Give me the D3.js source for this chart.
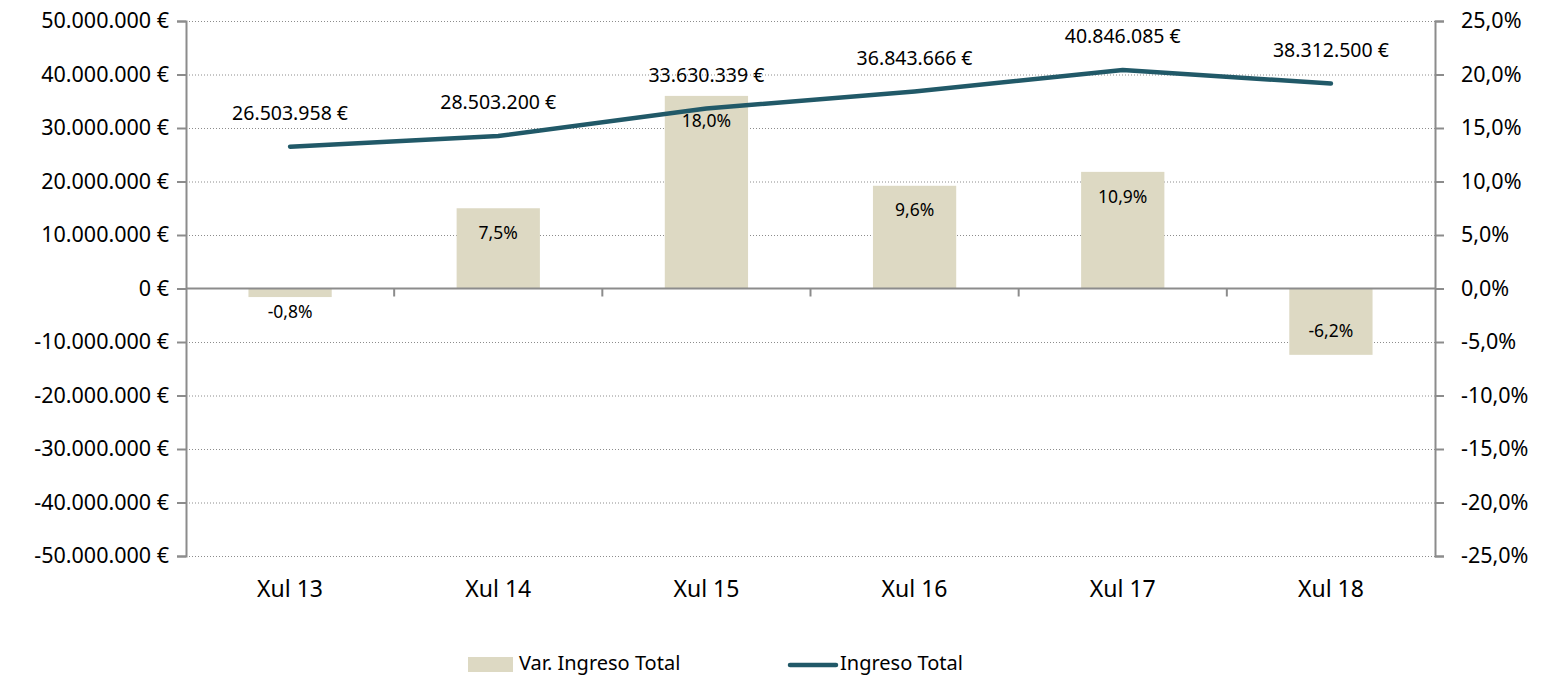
<!DOCTYPE html>
<html>
<head>
<meta charset="utf-8">
<script src="https://cdn.jsdelivr.net/npm/d3@7"></script>
<style>
  body { margin: 0; background: #fff; }
  svg text { font-family: "Noto Sans", sans-serif; fill: #000; }
</style>
</head>
<body>
<div id="vis"></div>
<script>
const months = ["Xul 13", "Xul 14", "Xul 15", "Xul 16", "Xul 17", "Xul 18"];
const ingresoTotal = [26503958, 28503200, 33630339, 36843666, 40846085, 38312500];
const varIngreso = [-0.8, 7.5, 18.0, 9.6, 10.9, -6.2];
const leftTicks = [-50000000, -40000000, -30000000, -20000000, -10000000, 0, 10000000, 20000000, 30000000, 40000000, 50000000];
const rightTicks = [-25, -20, -15, -10, -5, 0, 5, 10, 15, 20, 25];

const FRAME_WIDTH = 1545;
const FRAME_HEIGHT = 677;
const MARGINS = {left: 186, right: 110, top: 21, bottom: 121};

const BAR_COLOR = "#DDD9C3";
const LINE_COLOR = "#215968";
const AXIS_COLOR = "#8C8C8C";

const svg = d3.select("#vis")
  .append("svg")
  .attr("width", FRAME_WIDTH)
  .attr("height", FRAME_HEIGHT);

const X = d3.scaleBand()
  .domain(months)
  .range([MARGINS.left, FRAME_WIDTH - MARGINS.right]);

const YL = d3.scaleLinear()
  .domain([-50000000, 50000000])
  .range([FRAME_HEIGHT - MARGINS.bottom, MARGINS.top]);

const YR = d3.scaleLinear()
  .domain([-25, 25])
  .range([FRAME_HEIGHT - MARGINS.bottom, MARGINS.top]);

// spanish style numbers, plain hyphen for negatives
const euro = (v) => d3.format(",")(v).replace(/,/g, ".").replace("\u2212", "-") + " €";
const pct = (v) => v.toFixed(1).replace(".", ",") + "%";

// gridlines (dotted)
svg.append("g")
  .selectAll("line")
  .data(leftTicks.filter(d => d !== 0))
  .enter().append("line")
  .attr("x1", MARGINS.left)
  .attr("x2", FRAME_WIDTH - MARGINS.right)
  .attr("y1", d => YL(d) + 0.5)
  .attr("y2", d => YL(d) + 0.5)
  .attr("stroke", "#8C8C8C")
  .attr("stroke-width", 1)
  .attr("stroke-dasharray", "1,2");

// bars
const barW = X.bandwidth() * 0.4;
svg.append("g")
  .selectAll("rect")
  .data(varIngreso)
  .enter().append("rect")
  .attr("x", (d, i) => X(months[i]) + (X.bandwidth() - barW) / 2)
  .attr("y", d => YR(Math.max(d, 0)))
  .attr("width", barW)
  .attr("height", d => Math.abs(YR(d) - YR(0)))
  .attr("fill", BAR_COLOR);

// left axis
const leftAxis = svg.append("g")
  .attr("transform", "translate(" + MARGINS.left + ",0)")
  .call(d3.axisLeft(YL).tickValues(leftTicks).tickFormat(euro).tickSize(9).tickPadding(8));

// right axis
const rightAxis = svg.append("g")
  .attr("transform", "translate(" + (FRAME_WIDTH - MARGINS.right) + ",0)")
  .call(d3.axisRight(YR).tickValues(rightTicks).tickFormat(pct).tickSize(9).tickPadding(17));

[leftAxis, rightAxis].forEach(ax => {
  ax.select(".domain").attr("stroke", AXIS_COLOR).attr("stroke-width", 2);
  ax.selectAll(".tick line").attr("stroke", AXIS_COLOR).attr("stroke-width", 2);
  ax.selectAll(".tick text").style("font-size", "21.5px").attr("fill", "#000");
});

// category axis on zero line
const xAxis = svg.append("g")
  .attr("transform", "translate(0," + YL(0) + ")");
xAxis.append("line")
  .attr("x1", MARGINS.left)
  .attr("x2", FRAME_WIDTH - MARGINS.right)
  .attr("stroke", AXIS_COLOR)
  .attr("stroke-width", 2);
xAxis.selectAll(".ctick")
  .data(months.slice(1))
  .enter().append("line")
  .attr("x1", d => X(d))
  .attr("x2", d => X(d))
  .attr("y1", 0)
  .attr("y2", 8)
  .attr("stroke", AXIS_COLOR)
  .attr("stroke-width", 2);

// category labels at bottom
svg.append("g")
  .selectAll("text")
  .data(months)
  .enter().append("text")
  .attr("x", d => X(d) + X.bandwidth() / 2)
  .attr("y", FRAME_HEIGHT - MARGINS.bottom + 35)
  .attr("text-anchor", "middle")
  .attr("dominant-baseline", "middle")
  .style("font-size", "23px")
  .text(d => d);

// line
const line = d3.line()
  .x((d, i) => X(months[i]) + X.bandwidth() / 2)
  .y(d => YL(d));

svg.append("path")
  .datum(ingresoTotal)
  .attr("d", line)
  .attr("fill", "none")
  .attr("stroke", LINE_COLOR)
  .attr("stroke-width", 4.5)
  .attr("stroke-linecap", "round")
  .attr("stroke-linejoin", "round");

// bar labels
svg.append("g")
  .selectAll("text")
  .data(varIngreso)
  .enter().append("text")
  .attr("x", (d, i) => X(months[i]) + X.bandwidth() / 2)
  .attr("y", d => {
    const h = Math.abs(YR(d) - YR(0));
    if (d >= 0) return YR(d) + 26;
    if (h < 40) return YR(d) + 16;
    return YR(d) - 23;
  })
  .attr("text-anchor", "middle")
  .attr("dominant-baseline", "middle")
  .style("font-size", "17.5px")
  .text(d => pct(d));

// line labels
svg.append("g")
  .selectAll("text")
  .data(ingresoTotal)
  .enter().append("text")
  .attr("x", (d, i) => X(months[i]) + X.bandwidth() / 2)
  .attr("y", d => YL(d) - 32)
  .attr("text-anchor", "middle")
  .attr("dominant-baseline", "middle")
  .style("font-size", "19.5px")
  .text(d => euro(d));

// legend
const legend = svg.append("g");
legend.append("rect")
  .attr("x", 468).attr("y", 657)
  .attr("width", 45).attr("height", 15)
  .attr("fill", BAR_COLOR);
legend.append("text")
  .attr("x", 519).attr("y", 665)
  .attr("dominant-baseline", "middle")
  .style("font-size", "20px")
  .text("Var. Ingreso Total");
legend.append("line")
  .attr("x1", 790).attr("x2", 836)
  .attr("y1", 665).attr("y2", 665)
  .attr("stroke", LINE_COLOR)
  .attr("stroke-width", 4.5)
  .attr("stroke-linecap", "round");
legend.append("text")
  .attr("x", 840).attr("y", 665)
  .attr("dominant-baseline", "middle")
  .style("font-size", "20px")
  .text("Ingreso Total");
</script>
</body>
</html>
